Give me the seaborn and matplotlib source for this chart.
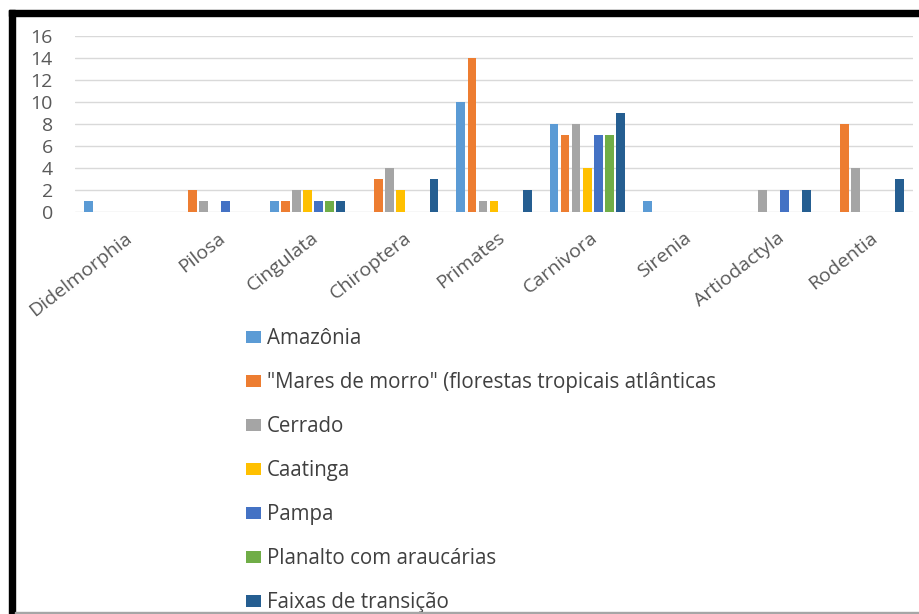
import matplotlib
matplotlib.use("Agg")
import matplotlib.pyplot as plt
import matplotlib.transforms as mtransforms
from matplotlib.patches import Rectangle, Patch
import seaborn as sns
import pandas as pd

categories = ["Didelmorphia", "Pilosa", "Cingulata", "Chiroptera", "Primates",
              "Carnivora", "Sirenia", "Artiodactyla", "Rodentia"]
series = ["Amazônia", "\"Mares de morro\" (florestas tropicais atlânticas",
          "Cerrado", "Caatinga", "Pampa", "Planalto com araucárias",
          "Faixas de transição"]
amazonia  = [1, 0, 1, 0, 10, 8, 1, 0, 0]
mares     = [0, 2, 1, 3, 14, 7, 0, 0, 8]
cerrado   = [0, 1, 2, 4, 1, 8, 0, 2, 4]
caatinga  = [0, 0, 2, 2, 1, 4, 0, 0, 0]
pampa     = [0, 1, 1, 0, 0, 7, 0, 2, 0]
planalto  = [0, 0, 1, 0, 0, 7, 0, 0, 0]
faixas    = [0, 0, 1, 3, 2, 9, 0, 2, 3]
yticks = [0, 2, 4, 6, 8, 10, 12, 14, 16]

colors = ["#5B9BD5", "#ED7D31", "#A5A5A5", "#FFC000", "#4472C4", "#70AD47", "#255E91"]

values = [amazonia, mares, cerrado, caatinga, pampa, planalto, faixas]
rows = []
for s, vals in zip(series, values):
    for c, v in zip(categories, vals):
        rows.append({"ordem": c, "bioma": s, "n": v})
df = pd.DataFrame(rows)

sns.set_style("white")
plt.rcParams["font.family"] = ["Open Sans", "DejaVu Sans"]

fig = plt.figure(figsize=(9.19, 6.14), dpi=100)
ax = fig.add_axes([75/919, 1-212/614, 838/919, 176/614])

sns.barplot(data=df, x="ordem", y="n", hue="bioma", order=categories,
            hue_order=series, palette=colors, saturation=1, width=0.83, gap=0.2,
            linewidth=0, errorbar=None, legend=False, ax=ax)

ax.set_ylim(0, 16)
ax.set_xlim(-0.5, len(categories) - 0.5)
ax.set_yticks(yticks)
ax.set_yticklabels([str(t) for t in yticks])
ax.grid(axis="y", color="#d9d9d9", linewidth=1)
ax.set_axisbelow(True)
for sp in ax.spines.values():
    sp.set_visible(False)
ax.set_xlabel("")
ax.set_ylabel("")
ax.tick_params(axis="both", length=0, colors="#595959", labelsize=14)
ax.tick_params(axis="y", pad=16)
ax.tick_params(axis="x", pad=12)
offset = mtransforms.ScaledTranslation(3/100, 0, fig.dpi_scale_trans)
for lab in ax.get_xticklabels():
    lab.set_rotation(38)
    lab.set_ha("right")
    lab.set_va("top")
    lab.set_rotation_mode("anchor")
    lab.set_transform(lab.get_transform() + offset)

handles = [Patch(facecolor=c, edgecolor="none") for c in colors]
ax.legend(handles, series, loc="upper left", bbox_to_anchor=(238/919, 1-320/614),
          bbox_transform=fig.transFigure, frameon=False, fontsize=14.8,
          labelcolor="#404040", handlelength=0.7, handleheight=0.5,
          handletextpad=0.3, labelspacing=1.12, borderaxespad=0)

# black frame edges from the reference screenshot
fig.patches.append(Rectangle((9/919, 1-16/614), 910/919, 6/614, transform=fig.transFigure,
                             color="black", zorder=10))
fig.patches.append(Rectangle((9/919, 0), 6/919, 1-10/614, transform=fig.transFigure,
                             color="black", zorder=10))
fig.patches.append(Rectangle((15/919, 0), 904/919, 2/614, transform=fig.transFigure,
                             color="#a6a6a6", zorder=10))

fig.savefig("out.png", dpi=100)
